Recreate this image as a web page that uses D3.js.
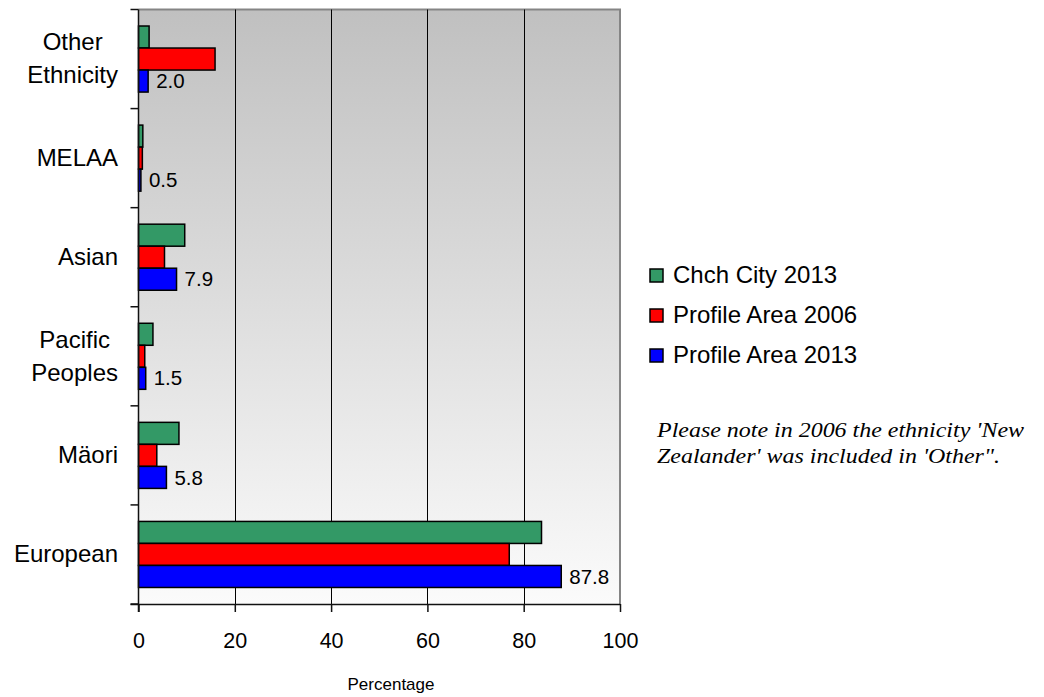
<!DOCTYPE html>
<html>
<head>
<meta charset="utf-8">
<script src="https://cdn.jsdelivr.net/npm/d3@7"></script>
<style>
  html, body { margin: 0; padding: 0; background: #ffffff; }
  svg { display: block; font-family: "Liberation Sans", Arial, sans-serif; }
</style>
</head>
<body>
<svg id="chart" width="1044" height="697"></svg>
<script>
// ---- Data ----
const categories = ["Other Ethnicity", "MELAA", "Asian", "Pacific Peoples", "Mäori", "European"];
const categoryLines = [["Other", "Ethnicity"], ["MELAA"], ["Asian"], ["Pacific", "Peoples"], ["Mäori"], ["European"]];
const seriesNames = ["Chch City 2013", "Profile Area 2006", "Profile Area 2013"];
const chchCity2013 = [2.2, 0.9, 9.6, 3.0, 8.4, 83.7];
const profileArea2006 = [15.9, 0.8, 5.4, 1.3, 3.8, 77.0];
const profileArea2013 = [2.0, 0.5, 7.9, 1.5, 5.8, 87.8];
const xTicks = [0, 20, 40, 60, 80, 100];
const seriesColors = ["#339966", "#ff0000", "#0000ff"];
const noteLines = ["Please note in 2006 the ethnicity 'New", "Zealander' was included in 'Other\"."];

const seriesValues = [chchCity2013, profileArea2006, profileArea2013];

// ---- Layout ----
const svg = d3.select("#chart");
const pLeft = 138.5, pRight = 620, pTop = 9.5, pBottom = 604;

const x = d3.scaleLinear().domain([0, 100]).range([pLeft, pRight]);
const y0 = d3.scaleBand().domain(categories).range([pTop, pBottom]).padding(0);
const bw = y0.bandwidth();
const y1 = d3.scaleBand().domain(seriesNames).range([bw / 6, bw * 5 / 6]).padding(0);

// background gradient
const defs = svg.append("defs");
const grad = defs.append("linearGradient").attr("id", "bg").attr("x1", 0).attr("y1", 0).attr("x2", 0).attr("y2", 1);
grad.append("stop").attr("offset", "0%").attr("stop-color", "#c0c0c0");
grad.append("stop").attr("offset", "100%").attr("stop-color", "#fbfbfb");

svg.append("rect")
  .attr("x", pLeft).attr("y", pTop)
  .attr("width", pRight - pLeft).attr("height", pBottom - pTop)
  .attr("fill", "url(#bg)");

// plot border (top & right gray)
svg.append("path")
  .attr("d", `M${pLeft},${pTop}H${pRight}V${pBottom}`)
  .attr("fill", "none").attr("stroke", "#858585").attr("stroke-width", 2);

// gridlines
svg.append("g").selectAll("line")
  .data(xTicks.filter(d => d > 0 && d < 100))
  .join("line")
  .attr("x1", d => Math.round(x(d)) + 0.5).attr("x2", d => Math.round(x(d)) + 0.5)
  .attr("y1", pTop).attr("y2", pBottom)
  .attr("stroke", "#000").attr("stroke-width", 1);

// bars
const groups = svg.append("g").selectAll("g")
  .data(categories)
  .join("g")
  .attr("transform", d => `translate(0,${y0(d)})`);

groups.selectAll("rect")
  .data((d, i) => seriesNames.map((s, j) => ({ s, v: seriesValues[j][i], j })))
  .join("rect")
  .attr("x", x(0))
  .attr("y", d => y1(d.s))
  .attr("width", d => x(d.v) - x(0))
  .attr("height", y1.bandwidth())
  .attr("fill", d => seriesColors[d.j])
  .attr("stroke", "#000")
  .attr("stroke-width", 1.5);

// value labels for Profile Area 2013
groups.append("text")
  .attr("x", (d, i) => x(profileArea2013[i]) + 8)
  .attr("y", d => y1(seriesNames[2]) + y1.bandwidth() / 2)
  .attr("dy", "0.35em")
  .attr("font-size", 20.5)
  .attr("fill", "#000")
  .text((d, i) => profileArea2013[i].toFixed(1));

// x axis
const xAxis = d3.axisBottom(x).tickValues(xTicks).tickSize(8).tickPadding(21).tickSizeOuter(0);
const gx = svg.append("g").attr("transform", `translate(0,${pBottom})`).call(xAxis);
gx.select(".domain").attr("d", `M${pLeft - 8},0.5H${pRight}`).attr("stroke", "#111").attr("stroke-width", 1.5);
gx.selectAll(".tick line").attr("stroke", "#111").attr("stroke-width", 1.5);
gx.selectAll(".tick text").attr("font-size", 21.5).attr("font-family", "Liberation Sans, Arial, sans-serif").attr("fill", "#000");

// y axis (band boundaries as ticks)
const boundaries = categories.map(c => y0(c)).concat([pBottom]);
const gy = svg.append("g");
gy.append("line").attr("x1", pLeft).attr("x2", pLeft).attr("y1", pTop).attr("y2", pBottom + 8)
  .attr("stroke", "#111").attr("stroke-width", 1.5);
gy.selectAll("line.tk").data(boundaries).join("line").attr("class", "tk")
  .attr("x1", pLeft - 8).attr("x2", pLeft).attr("y1", d => d).attr("y2", d => d)
  .attr("stroke", "#111").attr("stroke-width", 1.5);

// category labels
const labelRight = 118;
const lineH = 33;
categories.forEach((c, i) => {
  const lines = categoryLines[i];
  const cy = y0(c) + bw / 2;
  const t = svg.append("text").attr("font-size", 24).attr("fill", "#000");
  lines.forEach((ln, k) => {
    t.append("tspan").attr("y", cy + (k - (lines.length - 1) / 2) * lineH).attr("dy", "0.33em").text(ln);
  });
  if (lines.length === 1) {
    t.attr("text-anchor", "end").selectAll("tspan").attr("x", labelRight);
  } else {
    let maxW = 0;
    t.selectAll("tspan").each(function () { maxW = Math.max(maxW, this.getComputedTextLength()); });
    t.attr("text-anchor", "middle").selectAll("tspan").attr("x", labelRight - maxW / 2);
  }
});

// x axis title
svg.append("text")
  .attr("x", 391).attr("y", 690)
  .attr("text-anchor", "middle").attr("font-size", 17).attr("fill", "#000")
  .text("Percentage");

// legend
const legend = svg.append("g").attr("transform", "translate(650,269)");
const li = legend.selectAll("g").data(seriesNames).join("g")
  .attr("transform", (d, i) => `translate(0,${i * 40})`);
li.append("rect").attr("width", 13).attr("height", 13)
  .attr("fill", (d, i) => seriesColors[i]).attr("stroke", "#000").attr("stroke-width", 1.5);
li.append("text").attr("x", 23).attr("y", 13.5).attr("font-size", 24).attr("fill", "#000").text(d => d);

// note
const noteWidths = [367, 343];
const note = svg.append("text").attr("font-family", "Liberation Serif, Times New Roman, serif")
  .attr("font-style", "italic").attr("font-size", 20).attr("fill", "#000");
noteLines.forEach((ln, k) => {
  note.append("tspan").attr("x", 657).attr("y", 437 + k * 26)
    .attr("textLength", noteWidths[k]).attr("lengthAdjust", "spacingAndGlyphs").text(ln);
});
</script>
</body>
</html>
